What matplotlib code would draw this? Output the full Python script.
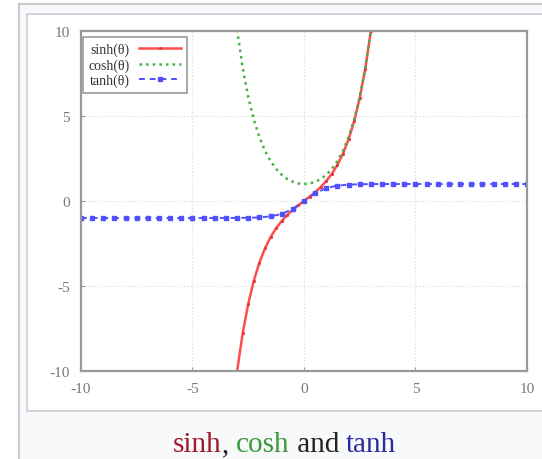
import numpy as np
import matplotlib.pyplot as plt
from matplotlib.patches import Rectangle

plt.rcParams['axes.unicode_minus'] = False

# values
theta = [-3.0, -2.75, -2.5, -2.25, -2.0, -1.75, -1.5, -1.25, -1.0, -0.75, -0.5, -0.25, 0.0,
         0.25, 0.5, 0.75, 1.0, 1.25, 1.5, 1.75, 2.0, 2.25, 2.5, 2.75, 3.0]
sinh_vals = [-10.02, -7.79, -6.05, -4.69, -3.63, -2.79, -2.13, -1.60, -1.18, -0.82, -0.52, -0.25, 0.0,
             0.25, 0.52, 0.82, 1.18, 1.60, 2.13, 2.79, 3.63, 4.69, 6.05, 7.79, 10.02]
cosh_vals = [10.07, 7.85, 6.13, 4.80, 3.76, 2.96, 2.35, 1.89, 1.54, 1.29, 1.13, 1.03, 1.0,
             1.03, 1.13, 1.29, 1.54, 1.89, 2.35, 2.96, 3.76, 4.80, 6.13, 7.85, 10.07]

theta_t = [-10.0, -9.5, -9.0, -8.5, -8.0, -7.5, -7.0, -6.5, -6.0, -5.5, -5.0, -4.5, -4.0, -3.5,
           -3.0, -2.5, -2.0, -1.5, -1.0, -0.5, 0.0, 0.5, 1.0, 1.5, 2.0, 2.5, 3.0, 3.5,
           4.0, 4.5, 5.0, 5.5, 6.0, 6.5, 7.0, 7.5, 8.0, 8.5, 9.0, 9.5, 10.0]
tanh_vals = [-1.0, -1.0, -1.0, -1.0, -1.0, -1.0, -1.0, -1.0, -1.0, -1.0, -1.0, -1.0, -0.999, -0.998,
             -0.995, -0.987, -0.964, -0.905, -0.762, -0.462, 0.0, 0.462, 0.762, 0.905, 0.964, 0.987, 0.995, 0.998,
             0.999, 1.0, 1.0, 1.0, 1.0, 1.0, 1.0, 1.0, 1.0, 1.0, 1.0, 1.0, 1.0]

ticks = [-10, -5, 0, 5, 10]
labels = ['sinh(θ)', 'cosh(θ)', 'tanh(θ)']

fig = plt.figure(figsize=(5.42, 4.60), dpi=100)
fig.patch.set_facecolor('white')

# wiki-style thumbnail frame
fig.add_artist(Rectangle((0.035, -0.1), 1.1, 1.089, transform=fig.transFigure,
                         facecolor='#f8f9fa', edgecolor='#c8ccd1', lw=1.5, zorder=0))
fig.add_artist(Rectangle((0.0498, 0.1054), 1.0, 0.863, transform=fig.transFigure,
                         facecolor='white', edgecolor='#c8ccd1', lw=1.2, zorder=0))

ax = fig.add_axes([0.1494, 0.1913, 0.8229, 0.7391])
ax.plot(theta, sinh_vals, '-', color='#ff4d4d', lw=1.8, marker='.', ms=2.5, mec='#e03a3a', label=labels[0])
ax.plot(theta, cosh_vals, ':', color='#44b044', lw=1.8, label=labels[1])
ax.plot(theta_t, tanh_vals, '--', color='#5050ff', lw=1.4, dashes=(3, 2.5),
        marker='s', ms=2.5, label=labels[2])

ax.set_xlim(-10, 10)
ax.set_ylim(-10, 10)
ax.set_xticks(ticks)
ax.set_yticks(ticks)
ax.tick_params(direction='in', length=3, color='#999999', labelcolor='#777777', labelsize=11, pad=8)
for t in ax.get_xticklabels() + ax.get_yticklabels():
    t.set_family('Liberation Serif')
ax.grid(True, color='#dddddd', linestyle=':', lw=0.9)
for s in ax.spines.values():
    s.set_color('#999999')
    s.set_linewidth(1.6)

leg = ax.legend(loc='upper left', bbox_to_anchor=(0.004, 0.982), borderaxespad=0,
                markerfirst=False, fancybox=False, edgecolor='#999999', framealpha=1,
                prop={'family': 'Liberation Serif', 'size': 10}, labelspacing=0.15,
                handlelength=3.0, handletextpad=0.7, borderpad=0.4)
leg.get_frame().set_linewidth(1.2)
for t in leg.get_texts():
    t.set_color('#333333')

# caption with coloured words
parts = [('sinh', '#a0182a'), (', ', '#222222'), ('cosh', '#3a9a3a'), (' and ', '#222222'), ('tanh', '#2a2aa0')]
txt = fig.text(0.319, 0.0174, parts[0][0], color=parts[0][1], fontsize=21,
               family='Liberation Serif', va='baseline')
for word, col in parts[1:]:
    txt = ax.annotate(word, xycoords=txt, xy=(1, 0), va='bottom', color=col,
                      fontsize=21, family='Liberation Serif', annotation_clip=False)

fig.savefig('out.png', dpi=100)
